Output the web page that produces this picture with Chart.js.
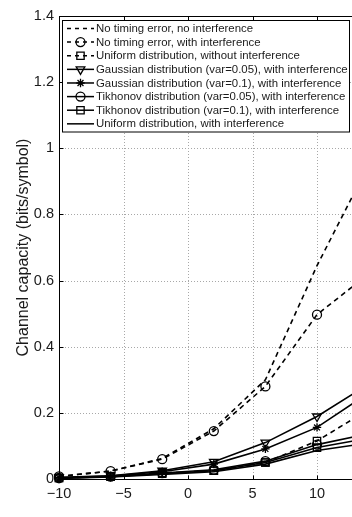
<!DOCTYPE html>
<html><head><meta charset="utf-8">
<script src="https://cdn.jsdelivr.net/npm/chart.js@4/dist/chart.umd.min.js"></script>
<style>
html,body{margin:0;padding:0;overflow:hidden;background:#fff;width:352px;height:517px}
canvas{display:block}
</style></head>
<body><canvas id="c" width="400" height="517" style="width:400px;height:517px"></canvas>
<script>
// ---- data ----
const snr = [-10, -6, -2, 2, 6, 10, 14];
const noErrNoInt     = [0.008, 0.024, 0.062, 0.152, 0.300, 0.645, 0.950];
const noErrWithInt   = [0.008, 0.024, 0.060, 0.145, 0.280, 0.497, 0.620];
const uniformNoInt   = [0.003, 0.008, 0.018, 0.025, 0.050, 0.115, 0.210];
const gauss005Int    = [0.005, 0.010, 0.025, 0.052, 0.110, 0.189, 0.287];
const gauss01Int     = [0.004, 0.009, 0.022, 0.045, 0.091, 0.156, 0.260];
const tikh005Int     = [0.003, 0.007, 0.018, 0.028, 0.054, 0.104, 0.137];
const tikh01Int      = [0.003, 0.007, 0.016, 0.025, 0.050, 0.095, 0.123];
const uniformWithInt = [0.002, 0.006, 0.014, 0.022, 0.045, 0.086, 0.109];
const seriesLabels = [
  'No timing error, no interference',
  'No timing error, with interference',
  'Uniform distribution, without interference',
  'Gaussian distribution (var=0.05), with interference',
  'Gaussian distribution (var=0.1), with interference',
  'Tikhonov distribution (var=0.05), with interference',
  'Tikhonov distribution (var=0.1), with interference',
  'Uniform distribution, with interference'
];
const yTitle = 'Channel capacity (bits/symbol)';

const FONT = '"Liberation Sans", Arial, Helvetica, sans-serif';
const DASH = [5, 4];
const pts = arr => arr.map((v, i) => ({x: snr[i], y: v}));

function ds(label, data, dashed, style, radius, rotation) {
  return {
    label, data: pts(data),
    borderColor: '#000', borderWidth: 1.6,
    borderDash: dashed ? DASH : [],
    pointStyle: style || 'circle',
    pointRadius: style ? radius : 0,
    pointHoverRadius: style ? radius : 0,
    pointRotation: rotation || 0,
    pointBorderColor: '#000', pointBackgroundColor: 'rgba(0,0,0,0)',
    pointBorderWidth: 1.3,
    tension: 0, clip: false, fill: false
  };
}

const datasets = [
  ds(seriesLabels[0], noErrNoInt, true, null, 0),
  ds(seriesLabels[1], noErrWithInt, true, 'circle', 4.5),
  ds(seriesLabels[2], uniformNoInt, true, 'rect', 5.2),
  ds(seriesLabels[3], gauss005Int, false, 'triangle', 5, 180),
  ds(seriesLabels[4], gauss01Int, false, 'star', 4.2),
  ds(seriesLabels[5], tikh005Int, false, 'circle', 4.5),
  ds(seriesLabels[6], tikh01Int, false, 'rect', 5.2),
  ds(seriesLabels[7], uniformWithInt, false, null, 0)
];

function drawMarker(ctx, d, x, y) {
  if (!d.pointRadius) return;
  ctx.save();
  ctx.setLineDash([]);
  ctx.lineWidth = d.pointBorderWidth;
  ctx.strokeStyle = '#000';
  ctx.fillStyle = 'rgba(0,0,0,0)';
  Chart.helpers.drawPoint(ctx, {pointStyle: d.pointStyle, rotation: d.pointRotation, radius: d.pointRadius, borderWidth: d.pointBorderWidth}, x, y);
  ctx.restore();
}

const framePlugin = {
  id: 'frame',
  beforeDatasetsDraw(chart) {
    const {ctx, chartArea: a, scales: {x, y}} = chart;
    ctx.save();
    // dotted grid
    ctx.strokeStyle = '#a8a8a8';
    ctx.lineWidth = 1;
    ctx.setLineDash([1, 2]);
    x.ticks.forEach(t => {
      const px = Math.round(x.getPixelForValue(t.value)) + 0.5;
      if (px <= a.left + 1 || px >= a.right - 1) return;
      ctx.beginPath(); ctx.moveTo(px, a.top); ctx.lineTo(px, a.bottom); ctx.stroke();
    });
    y.ticks.forEach(t => {
      const py = Math.round(y.getPixelForValue(t.value)) + 0.5;
      if (py <= a.top + 1 || py >= a.bottom - 1) return;
      ctx.beginPath(); ctx.moveTo(a.left, py); ctx.lineTo(a.right, py); ctx.stroke();
    });
    // box
    ctx.setLineDash([]);
    ctx.strokeStyle = '#000';
    const L = Math.round(a.left) + 0.5, R = Math.round(a.right) + 0.5;
    const T = Math.round(a.top) + 0.5, B = Math.round(a.bottom) + 0.5;
    ctx.strokeRect(L, T, R - L, B - T);
    // inward ticks
    const tl = 4;
    x.ticks.forEach(t => {
      const px = Math.round(x.getPixelForValue(t.value)) + 0.5;
      ctx.beginPath(); ctx.moveTo(px, B); ctx.lineTo(px, B - tl);
      ctx.moveTo(px, T); ctx.lineTo(px, T + tl); ctx.stroke();
    });
    y.ticks.forEach(t => {
      const py = Math.round(y.getPixelForValue(t.value)) + 0.5;
      ctx.beginPath(); ctx.moveTo(L, py); ctx.lineTo(L + tl, py);
      ctx.moveTo(R, py); ctx.lineTo(R - tl, py); ctx.stroke();
    });
    ctx.restore();
  },
  afterDatasetsDraw(chart) {
    const {ctx, chartArea: a} = chart;
    ctx.save();
    // y-axis title
    ctx.fillStyle = '#1a1a1a';
    ctx.font = '16px ' + FONT;
    ctx.textAlign = 'center';
    ctx.textBaseline = 'middle';
    ctx.translate(24, (a.top + a.bottom) / 2);
    ctx.rotate(-Math.PI / 2);
    ctx.fillText(yTitle, 0, 0);
    ctx.restore();

    // legend
    ctx.save();
    const bx = 62.5, by = 20.5, bw = 287, bh = 111.5;
    ctx.fillStyle = '#fff';
    ctx.fillRect(bx, by, bw, bh);
    ctx.strokeStyle = '#000';
    ctx.lineWidth = 1;
    ctx.strokeRect(bx, by, bw, bh);
    ctx.font = '11.4px ' + FONT;
    ctx.textBaseline = 'middle';
    ctx.textAlign = 'left';
    const step = 13.62;
    chart.data.datasets.forEach((d, i) => {
      const yy = 28.5 + i * step;
      ctx.save();
      ctx.strokeStyle = '#000';
      ctx.lineWidth = 1.5;
      ctx.setLineDash(d.borderDash.length ? [4, 4] : []);
      ctx.beginPath(); ctx.moveTo(67, yy); ctx.lineTo(94, yy); ctx.stroke();
      ctx.restore();
      drawMarker(ctx, d, 80.5, yy);
      ctx.fillStyle = '#1a1a1a';
      ctx.fillText(d.label, 96, yy + 0.5);
    });
    ctx.restore();
  }
};

new Chart(document.getElementById('c'), {
  type: 'line',
  data: {datasets},
  options: {
    responsive: false,
    devicePixelRatio: 1,
    animation: false,
    events: [],
    layout: {padding: {top: 16, right: 18.5, left: 0, bottom: 0}},
    plugins: {legend: {display: false}, tooltip: {enabled: false}, title: {display: false}},
    scales: {
      x: {
        type: 'linear', min: -10, max: 15,
        grid: {display: false, drawTicks: false},
        border: {display: false},
        ticks: {stepSize: 5, padding: 6, color: '#1a1a1a', font: {family: FONT, size: 14.5},
          maxRotation: 0, callback: v => String(v).replace('-', '\u2212')},
        afterFit: s => { s.height = 38; }
      },
      y: {
        type: 'linear', min: 0, max: 1.4,
        grid: {display: false, drawTicks: false},
        border: {display: false},
        ticks: {stepSize: 0.2, padding: 5, color: '#1a1a1a', font: {family: FONT, size: 14.5},
          callback: v => String(Math.round(v * 10) / 10)},
        afterFit: s => { s.width = 59; }
      }
    }
  },
  plugins: [framePlugin]
});
</script>
</body></html>
